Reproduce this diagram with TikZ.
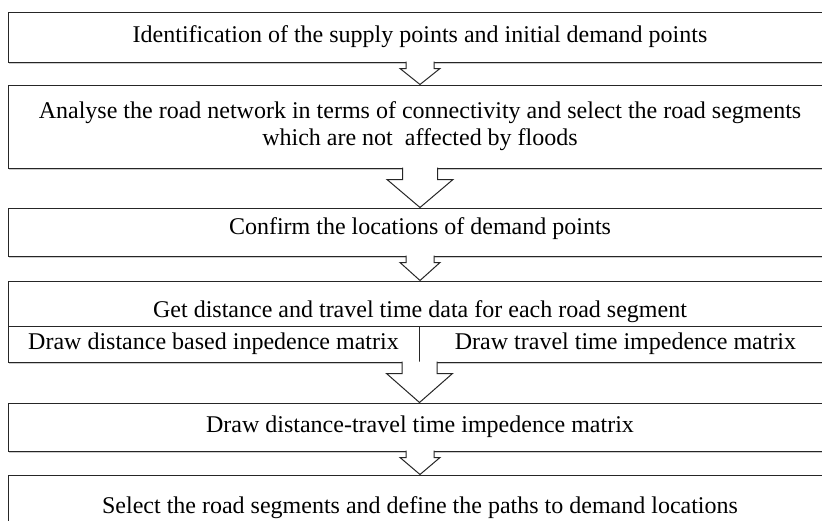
\documentclass[tikz,border=0pt]{standalone}
\usepackage{fontspec}
\setmainfont{Liberation Serif}
\usetikzlibrary{calc,shadows}

\tikzset{
  stage/.style={draw=black!85, line width=1pt, fill=white, rectangle, inner sep=0pt,
    minimum width=824pt, align=center, font=\fontsize{24}{27}\selectfont,
    drop shadow={shadow xshift=1pt, shadow yshift=-2pt, opacity=0.4}},
  flow/.style={draw=black!85, line width=1pt, fill=white, line join=miter},
}

% start, end, half shaft, half head, shaft length
\newcommand{\flowarrow}[5]{%
  \filldraw[flow] let \p1=#1, \p2=#2 in
    (\x1-#3,\y1+1pt) -- (\x1-#3,\y1-#5) -- (\x1-#4,\y1-#5) -- (\x1,\y2)
    -- (\x1+#4,\y1-#5) -- (\x1+#3,\y1-#5) -- (\x1+#3,\y1+1pt);
}

\begin{document}
\begin{tikzpicture}[x=1pt, y=-1pt]
        \useasboundingbox (0,0) rectangle (822,520);

        % Stages
        \node[stage, minimum height=50pt] (b1) at (420,37) {Identification of the supply points and initial demand points};
        \node[stage, minimum height=83pt] (b2) at (420,126.5) {Analyse the road network in terms of connectivity and select the road segments\\ which are not\ \ affected by floods};
        \node[stage, minimum height=48pt, text height=17pt, text depth=13pt] (b3) at (420,232) {Confirm the locations of demand points};
        \node[stage, minimum height=45pt, text height=33pt, text depth=5pt] (b4) at (420,303.5) {Get distance and travel time data for each road segment};
        \node[stage, minimum height=36pt, minimum width=411pt] (b4a) at (213.5,344) {Draw distance based inpedence matrix};
        \node[stage, minimum height=36pt, minimum width=413pt] (b4b) at (625.5,344) {Draw travel time impedence matrix};
        \node[stage, minimum height=48pt] (b5) at (420,427) {Draw distance-travel time impedence matrix};
        \node[stage, minimum height=66pt] (b6) at (420,508) {Select the road segments and define the paths to demand locations};

        % Block arrows
        \flowarrow{(b1.south)}{(b2.north)}{14pt}{20pt}{6pt}
        \flowarrow{(b2.south)}{(b3.north)}{17.5pt}{33pt}{11pt}
        \flowarrow{(b3.south)}{(b4.north)}{14pt}{20pt}{6pt}
        \flowarrow{(b4a.south east)}{(b5.north)}{17.5pt}{33pt}{11pt}
        \flowarrow{(b5.south)}{(b6.north)}{14pt}{20pt}{6pt}
\end{tikzpicture}
\end{document}
